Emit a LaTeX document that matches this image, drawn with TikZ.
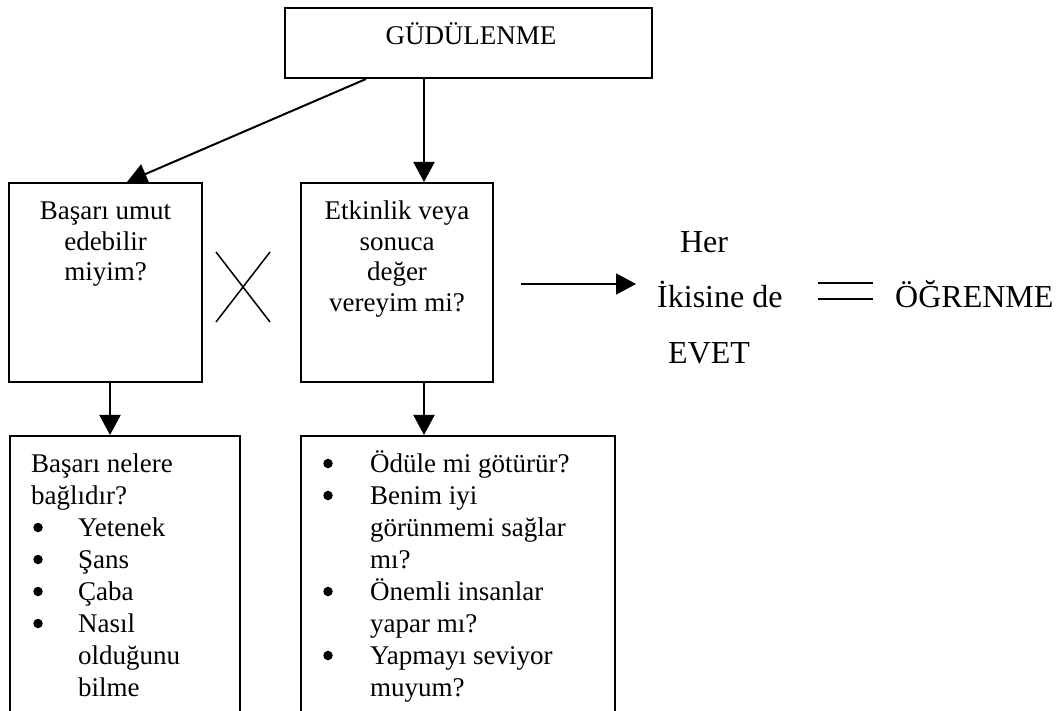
\documentclass[tikz,border=0pt]{standalone}
\usepackage{fontspec}
\setmainfont{Liberation Serif}
\usetikzlibrary{arrows.meta,calc}
\begin{document}
\begin{tikzpicture}[x=1pt,y=-1pt,
  box/.style={draw,line width=2pt,inner sep=0pt,fill=none},
  arr/.style={line width=2pt,-{Triangle[length=20pt,width=21pt]}},
  btxt/.style={inner sep=0pt,font=\fontsize{27}{30}\selectfont},
  rtxt/.style={inner sep=0pt,font=\fontsize{32}{38}\selectfont},
  dot/.style={circle,fill=black,inner sep=0pt,minimum size=9.5pt}]
\useasboundingbox (0,0) rectangle (1061,711);
\clip (0,0) rectangle (1061,711);
% boxes
\node[box,minimum width=367pt,minimum height=70pt] (top) at (468.5,43) {};
\node[box,minimum width=193pt,minimum height=199pt] (b1) at (105.5,282.5) {};
\node[box,minimum width=192pt,minimum height=199pt] (b2) at (397,282.5) {};
\node[box,minimum width=230pt,minimum height=300pt] (b3) at (125,586) {};
\node[box,minimum width=314pt,minimum height=300pt] (b4) at (458,586) {};
% texts
\node[btxt,anchor=base] (gt) at (471,45) {GÜDÜLENME};
\node[btxt,anchor=base] (b1a) at (105.5,220) {Başarı umut};
\node[btxt,anchor=base] (b1b) at (105.5,250.5) {edebilir};
\node[btxt,anchor=base] (b1c) at (105.5,281) {miyim?};
\node[btxt,anchor=base] (b2a) at (397,220) {Etkinlik veya};
\node[btxt,anchor=base] (b2b) at (397,250.5) {sonuca};
\node[btxt,anchor=base] (b2c) at (397,281) {değer};
\node[btxt,anchor=base] (b2d) at (397,311.5) {vereyim mi?};
% box 3 list
\node[btxt,anchor=base west] (b3a) at (31,472) {Başarı nelere};
\node[btxt,anchor=base west] (b3b) at (31,504) {bağlıdır?};
\node[dot] (b3p1) at (38,527.5) {};
\node[btxt,anchor=base west] (b3c) at (78,536) {Yetenek};
\node[dot] (b3p2) at (38,559.5) {};
\node[btxt,anchor=base west] (b3d) at (78,568) {Şans};
\node[dot] (b3p3) at (38,591.5) {};
\node[btxt,anchor=base west] (b3e) at (78,600) {Çaba};
\node[dot] (b3p4) at (38,623.5) {};
\node[btxt,anchor=base west] (b3f) at (78,632) {Nasıl};
\node[btxt,anchor=base west] (b3g) at (78,664) {olduğunu};
\node[btxt,anchor=base west] (b3h) at (78,696) {bilme};
% box 4 list
\node[dot] (b4p1) at (328,463.5) {};
\node[btxt,anchor=base west] (b4a) at (370,472) {Ödüle mi götürür?};
\node[dot] (b4p2) at (328,495.5) {};
\node[btxt,anchor=base west] (b4b) at (370,504) {Benim iyi};
\node[btxt,anchor=base west] (b4c) at (370,536) {görünmemi sağlar};
\node[btxt,anchor=base west] (b4d) at (370,568) {mı?};
\node[dot] (b4p3) at (328,591.5) {};
\node[btxt,anchor=base west] (b4e) at (370,600) {Önemli insanlar};
\node[btxt,anchor=base west] (b4f) at (370,632) {yapar mı?};
\node[dot] (b4p4) at (328,655.5) {};
\node[btxt,anchor=base west] (b4g) at (370,664) {Yapmayı seviyor};
\node[btxt,anchor=base west] (b4h) at (370,696) {muyum?};
% right side
\node[rtxt,anchor=base] (her) at (704,253) {Her};
\node[rtxt,anchor=base west] (iki) at (657,308) {İkisine de};
\node[rtxt,anchor=base west] (evet) at (668,364) {EVET};
\node[rtxt,anchor=base west] (ogr) at (895,308) {ÖĞRENME};
% connectors
\coordinate (cx1) at (110,0);
\coordinate (cx2) at (424,0);
\draw[arr] ($(top.south west)+(82,0)$) -- ($(b1.north west)+(119,0)$);
\draw[arr] (top.south -| cx2) -- (b2.north -| cx2);
\draw[arr] (b1.south -| cx1) -- (b3.north -| cx1);
\draw[arr] (b2.south -| cx2) -- (b4.north -| cx2);
\coordinate (hs) at (521,284);
\coordinate (he) at (636,284);
\draw[arr] (hs) -- (he);
% cross
\draw[line width=1.5pt] (216,252) -- (270,322) (270,252) -- (216,322);
% equals sign
\draw[line width=2pt] (818,283) -- (873,283) (818,299) -- (873,299);
\end{tikzpicture}
\end{document}
